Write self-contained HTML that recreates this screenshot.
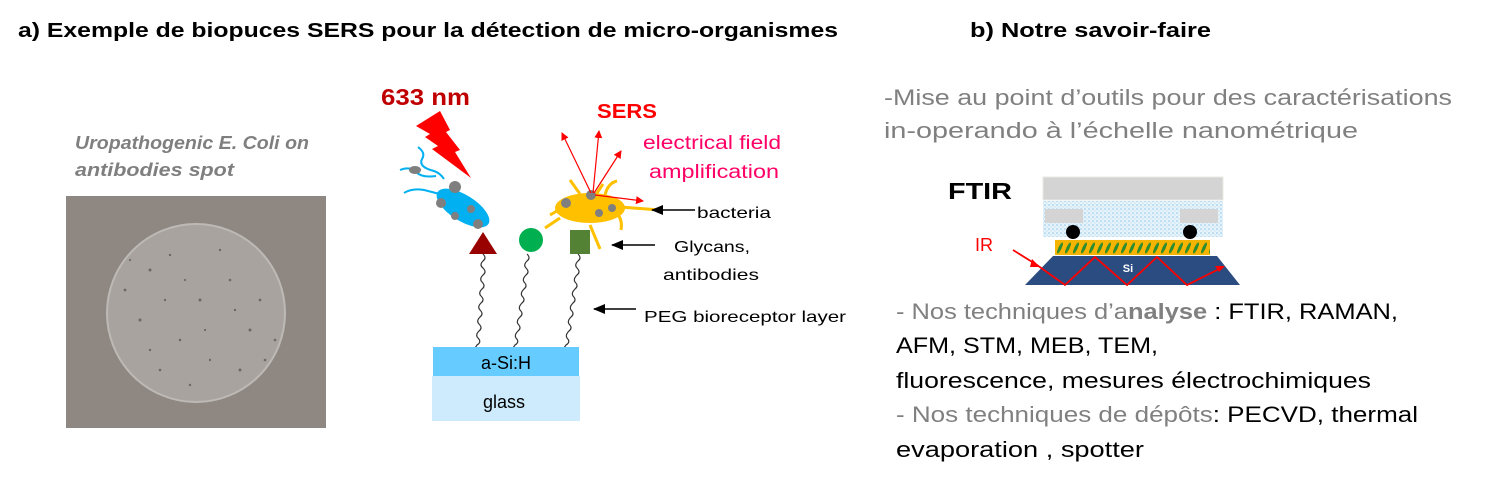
<!DOCTYPE html>
<html><head><meta charset="utf-8"><style>
html,body{margin:0;padding:0;background:#fff;}
svg{display:block;}
text{font-family:"Liberation Sans",sans-serif;}
</style></head><body>
<svg width="1486" height="485" viewBox="0 0 1486 485" xmlns="http://www.w3.org/2000/svg">
<defs>
<marker id="ar" markerWidth="8" markerHeight="8" refX="7" refY="4" orient="auto" markerUnits="userSpaceOnUse"><path d="M0,0 L8,4 L0,8 z" fill="#f00"/></marker>
<marker id="ak" markerWidth="12" markerHeight="10" refX="11" refY="5" orient="auto" markerUnits="userSpaceOnUse"><path d="M0,0 L12,5 L0,10 z" fill="#000"/></marker>
<pattern id="dots" width="4" height="4" patternUnits="userSpaceOnUse"><rect width="4" height="4" fill="#e6f3fb"/><circle cx="1" cy="1" r="0.8" fill="#8ec6ea"/><circle cx="3" cy="3" r="0.6" fill="#b5dbf3"/></pattern>
<pattern id="hatch" width="8" height="16" patternUnits="userSpaceOnUse"><rect width="8" height="16" fill="#f6b400"/><ellipse cx="4" cy="8" rx="1.6" ry="6" transform="rotate(25 4 8)" fill="#2e8b2e"/></pattern>
</defs>

<text x="18" y="37" font-size="20" font-weight="bold" textLength="820" lengthAdjust="spacingAndGlyphs">a) Exemple de biopuces SERS pour la détection de micro-organismes</text>
<text x="970" y="37" font-size="20" font-weight="bold" textLength="241" lengthAdjust="spacingAndGlyphs">b) Notre savoir-faire</text>

<text x="75" y="149" font-size="18" font-weight="bold" font-style="italic" fill="#7f7f7f" textLength="234" lengthAdjust="spacingAndGlyphs">Uropathogenic E. Coli on</text>
<text x="75" y="176" font-size="18" font-weight="bold" font-style="italic" fill="#7f7f7f" textLength="159" lengthAdjust="spacingAndGlyphs">antibodies spot</text>

<rect x="66" y="196" width="260" height="232" fill="#8e8782"/>
<circle cx="196" cy="313" r="89" fill="#a8a39f" stroke="#bdb9b5" stroke-width="2"/>
<g fill="#55504c" opacity="0.7">
<circle cx="150" cy="270" r="1.5"/><circle cx="170" cy="255" r="1.2"/><circle cx="200" cy="300" r="1.5"/><circle cx="230" cy="280" r="1.3"/><circle cx="250" cy="330" r="1.5"/><circle cx="180" cy="340" r="1.3"/><circle cx="140" cy="320" r="1.5"/><circle cx="210" cy="360" r="1.2"/><circle cx="260" cy="300" r="1.4"/><circle cx="160" cy="370" r="1.3"/><circle cx="220" cy="250" r="1.2"/><circle cx="125" cy="290" r="1.4"/><circle cx="275" cy="340" r="1.3"/><circle cx="190" cy="385" r="1.2"/><circle cx="240" cy="370" r="1.5"/>
<circle cx="165" cy="300" r="1.2"/><circle cx="185" cy="280" r="1.1"/><circle cx="235" cy="310" r="1.2"/><circle cx="205" cy="330" r="1.1"/><circle cx="150" cy="350" r="1.2"/><circle cx="265" cy="360" r="1.3"/><circle cx="130" cy="260" r="1.1"/>
</g>

<text x="381" y="105" font-size="23" font-weight="bold" fill="#c00000" textLength="89" lengthAdjust="spacingAndGlyphs">633 nm</text>
<polygon points="416,126 440,111 450,130 446,132 460,150 455,152 471,178 432,149 438,146 425,137 430,134" fill="#ff0000"/>

<path d="M418,147 q8,6 4,12 q-4,8 12,12 q6,2 10,8" fill="none" stroke="#00b0f0" stroke-width="2"/>
<path d="M400,170 q10,-4 16,2 q6,6 20,4" fill="none" stroke="#00b0f0" stroke-width="2"/>
<path d="M404,193 q10,-6 24,-2 q12,3 22,6" fill="none" stroke="#00b0f0" stroke-width="2"/>
<ellipse cx="463" cy="208" rx="30" ry="13" transform="rotate(32 463 208)" fill="#00b0f0"/>
<g fill="#7f7f7f"><ellipse cx="415" cy="170" rx="6" ry="4"/><circle cx="455" cy="187" r="6"/><circle cx="441" cy="203" r="5"/><circle cx="471" cy="209" r="4"/><circle cx="455" cy="216" r="4"/><circle cx="478" cy="224" r="5"/></g>
<polygon points="469,254 483,232 497,254" fill="#990000"/>

<circle cx="531" cy="240" r="12" fill="#00b050"/>
<rect x="570" y="230" width="20" height="24" fill="#548235"/>

<g stroke="#ffc000" stroke-width="3" fill="none">
<path d="M570,180 l10,14"/><path d="M605,195 q3,-12 12,-14"/><path d="M550,215 l12,-7"/><path d="M545,228 l15,-10"/><path d="M590,225 l10,24"/><path d="M615,212 q8,6 6,18"/><path d="M620,207 l40,3"/><path d="M595,196 l8,-12"/>
</g>
<ellipse cx="590" cy="208" rx="35" ry="15" fill="#ffc000"/>
<g fill="#7f7f7f"><circle cx="566" cy="203" r="5"/><circle cx="591" cy="195" r="5"/><circle cx="599" cy="213" r="4"/><circle cx="612" cy="208" r="4"/></g>

<text x="597" y="118" font-size="20" font-weight="bold" fill="#ff0000" textLength="60" lengthAdjust="spacingAndGlyphs">SERS</text>
<g stroke="#f00" stroke-width="1.2" marker-end="url(#ar)">
<line x1="591" y1="193" x2="562" y2="133"/><line x1="593" y1="193" x2="599" y2="131"/><line x1="594" y1="193" x2="621" y2="151"/><line x1="595" y1="195" x2="643" y2="201"/>
</g>
<text x="643" y="149" font-size="19" fill="#ff0066" textLength="138" lengthAdjust="spacingAndGlyphs">electrical field</text>
<text x="649" y="178" font-size="19" fill="#ff0066" textLength="130" lengthAdjust="spacingAndGlyphs">amplification</text>

<g stroke="#000" stroke-width="1.5" marker-end="url(#ak)">
<line x1="695" y1="210" x2="652" y2="210"/><line x1="655" y1="245" x2="612" y2="245"/><line x1="636" y1="309" x2="594" y2="309"/>
</g>
<text x="697" y="218" font-size="16" textLength="74" lengthAdjust="spacingAndGlyphs">bacteria</text>
<text x="674" y="252" font-size="16" textLength="76" lengthAdjust="spacingAndGlyphs">Glycans,</text>
<text x="663" y="280" font-size="16" textLength="96" lengthAdjust="spacingAndGlyphs">antibodies</text>
<text x="644" y="322" font-size="16" textLength="202" lengthAdjust="spacingAndGlyphs">PEG bioreceptor layer</text>

<g fill="none" stroke="#333" stroke-width="1.2">
<path d="M483,254 q4,4 0,7 q-4,4 0,7 q4,4 0,7 q-4,4 -1,7 q4,4 0,7 q-4,4 -1,7 q4,4 0,7 q-4,4 -1,7 q4,4 0,7 q-4,4 -1,7 q4,4 0,7 q-4,4 -1,7 q4,4 -1,7 q-3,4 -2,6"/>
<path d="M527,254 q4,4 0,7 q-4,4 -1,7 q4,4 0,7 q-4,4 -2,7 q4,4 0,7 q-4,4 -2,7 q4,4 0,7 q-4,4 -2,7 q4,4 0,7 q-4,4 -2,7 q4,4 0,7 q-4,4 -2,7 q4,4 -1,7 q-3,4 -3,6"/>
<path d="M578,254 q4,4 0,7 q-4,4 -1,7 q4,4 0,7 q-4,4 -2,7 q4,4 0,7 q-4,4 -2,7 q4,4 0,7 q-4,4 -2,7 q4,4 0,7 q-4,4 -2,7 q4,4 0,7 q-4,4 -2,7 q4,4 -1,7 q-3,4 -3,6"/>
</g>

<rect x="433" y="347" width="146" height="29" fill="#66ccff"/>
<rect x="432" y="376" width="148" height="45" fill="#cdebfc"/>
<text x="506" y="369" font-size="18" text-anchor="middle">a-Si:H</text>
<text x="504" y="408" font-size="18" text-anchor="middle">glass</text>

<text x="884" y="105" font-size="22" fill="#808080" textLength="568" lengthAdjust="spacingAndGlyphs">-Mise au point d’outils pour des caractérisations</text>
<text x="884" y="138" font-size="22" fill="#808080" textLength="474" lengthAdjust="spacingAndGlyphs">in-operando à l’échelle nanométrique</text>

<text x="948" y="199" font-size="23" font-weight="bold" textLength="64" lengthAdjust="spacingAndGlyphs">FTIR</text>
<rect x="1043" y="177" width="180" height="23" fill="#d4d4d4" stroke="#e8e8e0"/>
<rect x="1043" y="201" width="180" height="36" fill="url(#dots)"/>
<rect x="1045" y="209" width="38" height="14" fill="#d4d4d4"/>
<rect x="1180" y="209" width="38" height="14" fill="#d4d4d4"/>
<circle cx="1073" cy="232" r="7" fill="#000"/><circle cx="1190" cy="232" r="7" fill="#000"/>
<rect x="1055" y="240" width="155" height="15" fill="url(#hatch)"/>
<polygon points="1053,256 1217,256 1240,285 1025,285" fill="#2b4c80"/>
<text x="1128" y="272" font-size="11" font-weight="bold" fill="#fff" text-anchor="middle">Si</text>
<text x="975" y="251" font-size="18" fill="#ff0000">IR</text>
<polyline points="1013,250 1037,265 1065,285 1095,257 1127,285 1157,257 1187,285 1223,267" fill="none" stroke="#f00" stroke-width="1.8"/>
<polygon points="1032,259 1040,267 1030,267" fill="#f00"/>
<polygon points="1225,266 1215,266 1219,272" fill="#f00"/>

<g font-size="22">
<text x="896" y="319" textLength="502" lengthAdjust="spacingAndGlyphs"><tspan fill="#808080">- Nos techniques d’a</tspan><tspan fill="#808080" font-weight="bold">nalyse</tspan><tspan> : FTIR, RAMAN,</tspan></text>
<text x="896" y="353" textLength="262" lengthAdjust="spacingAndGlyphs">AFM, STM, MEB, TEM,</text>
<text x="896" y="388" textLength="475" lengthAdjust="spacingAndGlyphs">fluorescence, mesures électrochimiques</text>
<text x="896" y="422" textLength="522" lengthAdjust="spacingAndGlyphs"><tspan fill="#808080">- Nos techniques de dépôts</tspan><tspan>: PECVD, thermal</tspan></text>
<text x="896" y="457" textLength="248" lengthAdjust="spacingAndGlyphs">evaporation , spotter</text>
</g>
</svg>
</body></html>
